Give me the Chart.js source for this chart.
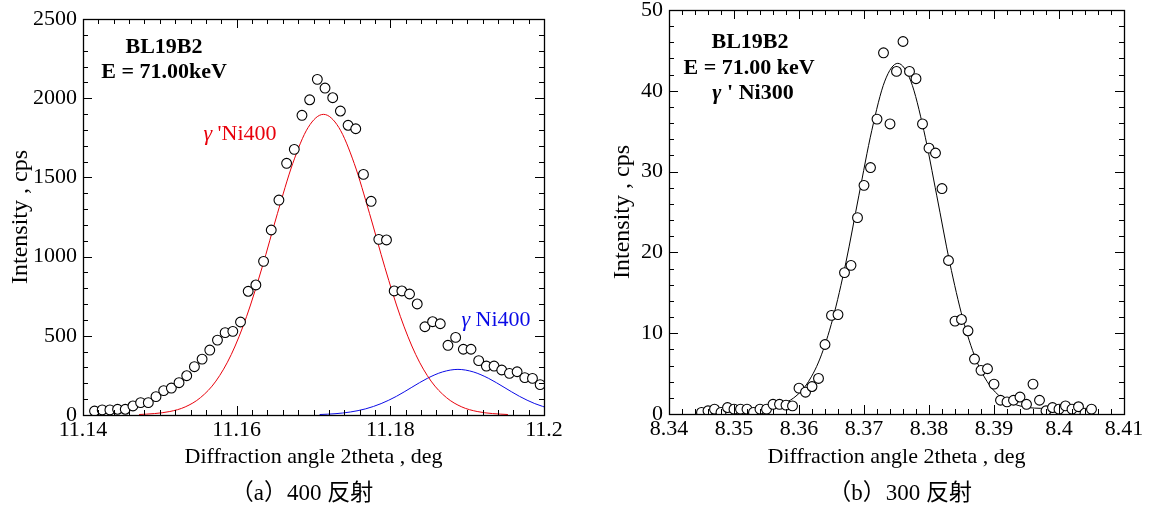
<!DOCTYPE html>
<html>
<head>
<meta charset="utf-8">
<script src="https://cdn.jsdelivr.net/npm/chart.js@4/dist/chart.umd.min.js"></script>
<style>
  body { margin: 0; background: #fff; }
  #wrap { position: relative; width: 1156px; height: 510px; overflow: hidden; }
  #wrap canvas { position: absolute; top: 0; }
  .caption { position: absolute; top: 479px; width: 220px; height: 28px; line-height: 28px; text-align: center;
             font-family: "Liberation Serif", "Noto Sans CJK JP", serif; font-size: 23px; color: #000; }
</style>
</head>
<body>
<div id="wrap">
  <canvas id="chart-400" width="578" height="510" style="left:0"></canvas>
  <canvas id="chart-300" width="578" height="510" style="left:578px"></canvas>
  <div class="caption" style="left:192px">（a）400 反射</div>
  <div class="caption" style="left:790px">（b）300 反射</div>
</div>
<script>
// --- 400 reflection (left) ---
const angle_400 = [11.1415, 11.1425, 11.1435, 11.1445, 11.1455, 11.1465, 11.1475, 11.1485, 11.1495, 11.1505,
  11.1515, 11.1525, 11.1535, 11.1545, 11.1555, 11.1565, 11.1575, 11.1585, 11.1595, 11.1605,
  11.1615, 11.1625, 11.1635, 11.1645, 11.1655, 11.1665, 11.1675, 11.1685, 11.1695, 11.1705,
  11.1715, 11.1725, 11.1735, 11.1745, 11.1755, 11.1765, 11.1775, 11.1785, 11.1795, 11.1805,
  11.1815, 11.1825, 11.1835, 11.1845, 11.1855, 11.1865, 11.1875, 11.1885, 11.1895, 11.1905,
  11.1915, 11.1925, 11.1935, 11.1945, 11.1955, 11.1965, 11.1975, 11.1985, 11.1995];
const cps_400 = [25, 32, 32, 36, 36, 57, 78, 78, 116, 154,
  170, 204, 248, 305, 353, 410, 473, 520, 528, 587,
  781, 821, 970, 1168, 1357, 1589, 1677, 1892, 1990, 2119,
  2064, 2003, 1919, 1829, 1807, 1519, 1349, 1109, 1105, 783,
  783, 764, 701, 557, 589, 576, 440, 490, 415, 415,
  343, 309, 309, 284, 263, 273, 236, 231, 192];

// gamma' Ni400 fit (red)
const angle_fit_gp = [11.1473, 11.1493, 11.1513, 11.1533, 11.1553, 11.1573, 11.1593, 11.1613, 11.1633, 11.1653,
  11.1673, 11.1693, 11.1713, 11.1733, 11.1753, 11.1773, 11.1793, 11.1813, 11.1833, 11.1853,
  11.1873, 11.1893, 11.1913, 11.1933, 11.1953];
const cps_fit_gp = [3, 9, 22, 51, 110, 214, 382, 623, 930, 1271,
  1588, 1815, 1898, 1815, 1588, 1271, 930, 623, 382, 214,
  110, 51, 22, 9, 3];

// gamma Ni400 fit (blue)
const angle_fit_g = [11.1708, 11.1728, 11.1748, 11.1768, 11.1788, 11.1808, 11.1828, 11.1848, 11.1868, 11.1888,
  11.1908, 11.1928, 11.1948, 11.1968, 11.1988, 11.2008];
const cps_fit_g = [3, 8, 19, 39, 72, 118, 175, 231, 272, 288,
  272, 231, 175, 118, 72, 39];

const ticks_x_400 = [11.14, 11.16, 11.18, 11.2];
const ticks_y_400 = [0, 500, 1000, 1500, 2000, 2500];

// --- 300 reflection (right) ---
const angle_300 = [8.345, 8.346, 8.347, 8.348, 8.349, 8.350, 8.351, 8.352, 8.353, 8.354,
  8.355, 8.356, 8.357, 8.358, 8.359, 8.360, 8.361, 8.362, 8.363, 8.364,
  8.365, 8.366, 8.367, 8.368, 8.369, 8.370, 8.371, 8.372, 8.373, 8.374,
  8.375, 8.376, 8.377, 8.378, 8.379, 8.380, 8.381, 8.382, 8.383, 8.384,
  8.385, 8.386, 8.387, 8.388, 8.389, 8.390, 8.391, 8.392, 8.393, 8.394,
  8.395, 8.396, 8.397, 8.398, 8.399, 8.400, 8.401, 8.402, 8.403, 8.404, 8.405];
const cps_300 = [0.2, 0.4, 0.6, 0.2, 0.8, 0.6, 0.6, 0.6, 0.2, 0.6,
  0.6, 1.2, 1.2, 1.1, 1.0, 3.2, 2.7, 3.4, 4.4, 8.6,
  12.2, 12.3, 17.5, 18.4, 24.3, 28.3, 30.5, 36.5, 44.7, 35.9,
  42.4, 46.1, 42.4, 41.5, 35.9, 32.9, 32.3, 27.9, 19.0, 11.5,
  11.7, 10.3, 6.8, 5.4, 5.6, 3.7, 1.7, 1.5, 1.7, 2.1,
  1.2, 3.7, 1.7, 0.4, 0.8, 0.6, 1.0, 0.6, 0.9, 0.1, 0.6];

const angle_fit_300 = [8.3452, 8.3472, 8.3492, 8.3512, 8.3532, 8.3552, 8.3572, 8.3592, 8.3612, 8.3632,
  8.3652, 8.3672, 8.3692, 8.3712, 8.3732, 8.3752, 8.3772, 8.3792, 8.3812, 8.3832,
  8.3852, 8.3872, 8.3892, 8.3912, 8.3932, 8.3952, 8.3972, 8.3992, 8.4012, 8.4032, 8.4052];
const cps_fit_300 = [0.6, 0.6, 0.6, 0.6, 0.7, 0.8, 1.2, 2.0, 3.7, 6.8,
  11.8, 18.7, 27.0, 35.1, 41.2, 43.4, 41.2, 35.1, 27.0, 18.7,
  11.8, 6.8, 3.7, 2.0, 1.2, 0.8, 0.7, 0.6, 0.6, 0.6, 0.6];

const ticks_x_300 = [8.34, 8.35, 8.36, 8.37, 8.38, 8.39, 8.40, 8.41];
const ticks_y_300 = [0, 10, 20, 30, 40, 50];

const SERIF = '"Liberation Serif", "Times New Roman", serif';

const to_points = (xs, ys) => xs.map((x, i) => ({x: x, y: ys[i]}));
const fmt = v => String(+Number(v).toFixed(3));

// frame + inward ticks on all four sides, like the original plotting program
const frame_ticks = (minor_x, minor_y) => ({
    id: 'frameTicks',
    afterDatasetsDraw(chart) {
        const {ctx, chartArea: a, scales: {x, y}} = chart;
        const major_x = x.ticks.map(t => t.value);
        const major_y = y.ticks.map(t => t.value);
        const is_major = (v, list, step) => list.some(m => Math.abs(m - v) < step / 10);
        ctx.save();
        ctx.strokeStyle = '#000';
        ctx.lineWidth = 1;
        ctx.beginPath();
        for (let k = 0; x.min + k * minor_x <= x.max + minor_x / 10; k++) {
            const v = x.min + k * minor_x;
            const px = Math.round(x.getPixelForValue(v)) + 0.5;
            const len = is_major(v, major_x, minor_x) ? 9 : 5;
            ctx.moveTo(px, a.bottom); ctx.lineTo(px, a.bottom - len);
            ctx.moveTo(px, a.top); ctx.lineTo(px, a.top + len);
        }
        for (let k = 0; y.min + k * minor_y <= y.max + minor_y / 10; k++) {
            const v = y.min + k * minor_y;
            const py = Math.round(y.getPixelForValue(v)) + 0.5;
            const len = is_major(v, major_y, minor_y) ? 9 : 5;
            ctx.moveTo(a.left, py); ctx.lineTo(a.left + len, py);
            ctx.moveTo(a.right, py); ctx.lineTo(a.right - len, py);
        }
        ctx.stroke();
        ctx.lineWidth = 1.3;
        ctx.strokeRect(Math.round(a.left) + 0.5, Math.round(a.top) + 0.5, Math.round(a.width), Math.round(a.height));
        ctx.restore();
    }
});

// text notes inside the plot, each made of parts (gamma is italic)
const notes = (items) => ({
    id: 'notes',
    afterDraw(chart) {
        const ctx = chart.ctx;
        items.forEach(item => {
            ctx.save();
            ctx.fillStyle = item.color || '#000';
            ctx.textBaseline = 'alphabetic';
            let total = 0;
            const parts = item.parts.map(p => {
                const font = (p.italic ? 'italic ' : '') + (item.bold ? 'bold ' : '') + item.size + 'px ' + SERIF;
                ctx.font = font;
                const w = ctx.measureText(p.text).width;
                total += w;
                return {text: p.text, font: font, w: w};
            });
            let x = item.x - total / 2;
            parts.forEach(p => { ctx.font = p.font; ctx.fillText(p.text, x, item.y); x += p.w; });
            ctx.restore();
        });
    }
});

const build_chart = (canvas, cfg) => {
    const tick_font = {family: SERIF, size: 22};
    new Chart(canvas, {
        type: 'scatter',
        plugins: [frame_ticks(cfg.minor_x, cfg.minor_y), notes(cfg.notes)],
        data: { datasets: cfg.datasets },
        options: {
            responsive: false,
            animation: false,
            devicePixelRatio: 1,
            layout: { padding: cfg.padding },
            plugins: { legend: { display: false }, tooltip: { enabled: false } },
            scales: {
                x: {
                    type: 'linear', min: cfg.x_ticks[0], max: cfg.x_ticks[cfg.x_ticks.length - 1],
                    afterBuildTicks: s => { s.ticks = cfg.x_ticks.map(v => ({value: v})); },
                    afterFit: s => { s.height = 60; s.paddingLeft = 0; s.paddingRight = 0; },
                    grid: { display: false, drawTicks: false },
                    border: { display: false },
                    ticks: { callback: fmt, font: tick_font, color: '#000', padding: 2, maxRotation: 0, autoSkip: false },
                    title: { display: true, text: 'Diffraction angle 2theta , deg', font: {family: SERIF, size: 22}, color: '#000',
                             padding: {top: 0, bottom: cfg.xtitle_pad} }
                },
                y: {
                    type: 'linear', min: cfg.y_ticks[0], max: cfg.y_ticks[cfg.y_ticks.length - 1],
                    afterBuildTicks: s => { s.ticks = cfg.y_ticks.map(v => ({value: v})); },
                    afterFit: s => { s.width = cfg.y_width; s.paddingTop = 0; s.paddingBottom = 0; },
                    grid: { display: false, drawTicks: false },
                    border: { display: false },
                    ticks: { callback: v => String(v), font: tick_font, color: '#000', padding: 6, autoSkip: false },
                    title: { display: true, text: 'Intensity , cps', font: {family: SERIF, size: 24}, color: '#000',
                             padding: {top: cfg.ytitle_pad, bottom: 0} }
                }
            }
        }
    });
};

const marker = (label, xs, ys) => ({
    label: label, data: to_points(xs, ys), showLine: false,
    pointRadius: 4.9, pointBorderWidth: 1.1, pointBorderColor: '#000', pointBackgroundColor: '#fff'
});
const curve = (label, xs, ys, color) => ({
    label: label, data: to_points(xs, ys), showLine: true, pointRadius: 0,
    borderColor: color, borderWidth: 1, cubicInterpolationMode: 'monotone', fill: false
});

document.addEventListener("DOMContentLoaded", function () {
    build_chart(document.getElementById("chart-400"), {
        datasets: [
            marker('400', angle_400, cps_400),
            curve("γ'Ni400", angle_fit_gp, cps_fit_gp, '#e8000b'),
            curve('γNi400', angle_fit_g, cps_fit_g, '#0a0ae6')
        ],
        x_ticks: ticks_x_400, y_ticks: ticks_y_400, minor_x: 0.002, minor_y: 100,
        padding: {left: 0, top: 19, right: 34, bottom: 35},
        y_width: 83, ytitle_pad: 6, xtitle_pad: 5,
        notes: [
            {x: 164, y: 53, size: 22, bold: true, parts: [{text: 'BL19B2'}]},
            {x: 164, y: 78, size: 22, bold: true, parts: [{text: 'E = 71.00keV'}]},
            {x: 240, y: 140, size: 22, color: '#e8000b', parts: [{text: 'γ', italic: true}, {text: " 'Ni400"}]},
            {x: 496, y: 326, size: 22, color: '#0a0ae6', parts: [{text: 'γ', italic: true}, {text: ' Ni400'}]}
        ]
    });
    build_chart(document.getElementById("chart-300"), {
        datasets: [
            marker('300', angle_300, cps_300),
            curve("γ'Ni300", angle_fit_300, cps_fit_300, '#000')
        ],
        x_ticks: ticks_x_300, y_ticks: ticks_y_300, minor_x: 0.002, minor_y: 2,
        padding: {left: 0, top: 10, right: 32, bottom: 36},
        y_width: 91, ytitle_pad: 30, xtitle_pad: 4,
        notes: [
            {x: 172, y: 48, size: 22, bold: true, parts: [{text: 'BL19B2'}]},
            {x: 171, y: 74, size: 22, bold: true, parts: [{text: 'E = 71.00 keV'}]},
            {x: 175, y: 99, size: 22, bold: true, parts: [{text: 'γ', italic: true}, {text: " ' Ni300"}]}
        ]
    });
});
</script>
</body>
</html>
